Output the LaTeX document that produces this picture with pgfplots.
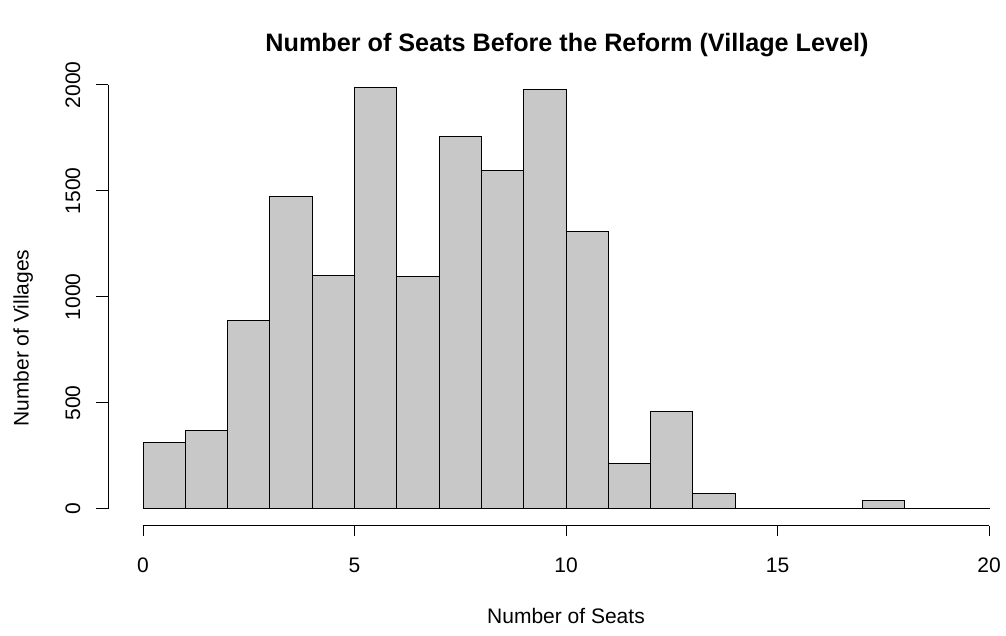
\documentclass[border=0pt]{standalone}
\usepackage{pgfplots}
\pgfplotsset{compat=1.18}
\usepackage{fontspec}
\setmainfont{Liberation Sans}
\definecolor{barfill}{RGB}{200,200,200}
\begin{document}
\begin{tikzpicture}[x=1pt,y=1pt]
\useasboundingbox (0,0) rectangle (1006,636);
\begin{axis}[
  at={(143pt,127pt)}, anchor=south west,
  scale only axis, width=846pt, height=424pt,
  xmin=0, xmax=20, ymin=0, ymax=2000,
  axis lines=none, clip=false,
]
\addplot[ybar interval, draw=black, line width=1pt, fill=barfill] coordinates {
(0,316) (1,369) (2,891) (3,1476) (4,1101) (5,1989) (6,1096) (7,1758) (8,1598) (9,1978)
(10,1308) (11,214) (12,459) (13,75) (14,0) (15,0) (16,0) (17,38) (18,0) (19,0) (20,0)
};
% empty bins (zero-height bars drawn as lines, as R does)
\addplot[black, line width=1pt, line cap=rect] coordinates {(14,0) (17,0)};
\addplot[black, line width=1pt, line cap=rect] coordinates {(18,0) (20,0)};
\end{axis}
% axes in R style
\draw[line width=1pt] (143,110) -- (989,110);
\foreach \k/\lab in {0/0,1/5,2/10,3/15,4/20} {
  \draw[line width=1pt] ({143+\k*211.5},110) -- ({143+\k*211.5},100);
  \node[anchor=base, font=\fontsize{21}{25}\selectfont, inner sep=0pt] at ({143+\k*211.5},63) {\lab};
}
\draw[line width=1pt] (108,127) -- (108,551);
\foreach \k/\lab in {0/0,1/500,2/1000,3/1500,4/2000} {
  \draw[line width=1pt] (108,{127+\k*106}) -- (96,{127+\k*106});
  \node[anchor=base, rotate=90, font=\fontsize{21}{25}\selectfont, inner sep=0pt] at (80,{127+\k*106}) {\lab};
}
\node[anchor=base, font=\fontsize{21}{25}\selectfont, inner sep=0pt] at (566,12) {Number of Seats};
\node[anchor=base, rotate=90, font=\fontsize{21}{25}\selectfont, inner sep=0pt] at (28.5,298) {Number of Villages};
\node[anchor=base, font=\bfseries\fontsize{25.2}{30}\selectfont, inner sep=0pt] at (567,584) {Number of Seats Before the Reform (Village Level)};
\end{tikzpicture}
\end{document}
